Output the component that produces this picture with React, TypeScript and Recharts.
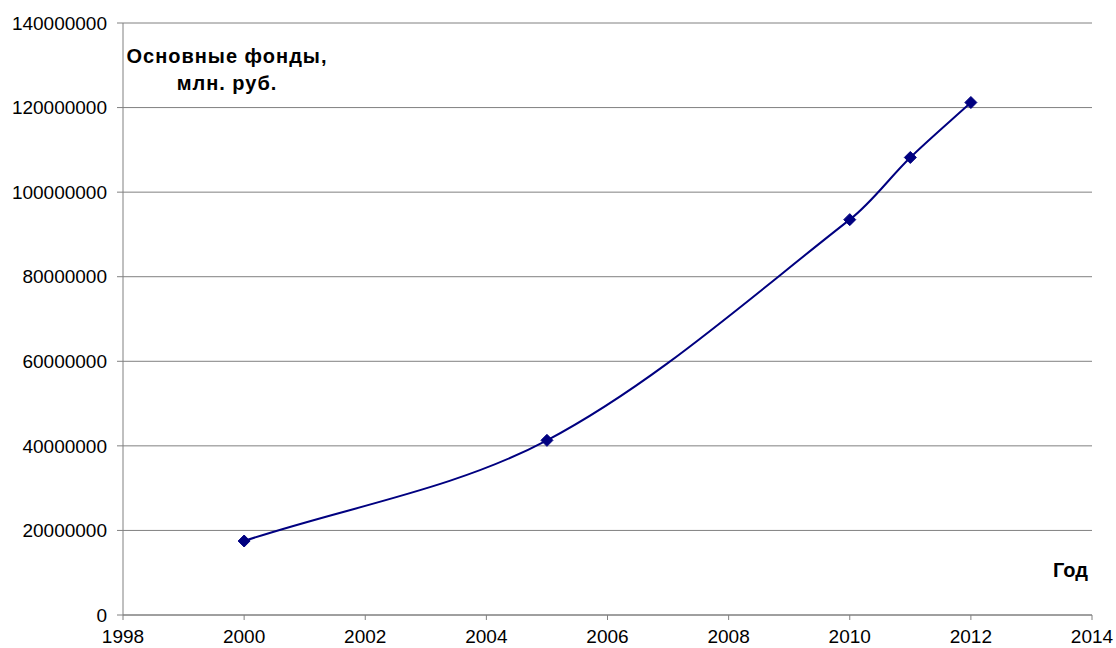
import { LineChart, Line, XAxis, YAxis, CartesianGrid } from 'recharts';

const years = [2000, 2005, 2010, 2011, 2012];
const funds = [17500000, 41300000, 93500000, 108200000, 121200000];
const xTicks = [1998, 2000, 2002, 2004, 2006, 2008, 2010, 2012, 2014];
const yTicks = [0, 20000000, 40000000, 60000000, 80000000, 100000000, 120000000, 140000000];

const data = years.map((year, i) => ({ year, value: funds[i] }));

const dist = (a: number[], b: number[]) => Math.hypot(b[0] - a[0], b[1] - a[1]);

// Excel-style smoothed line: cubic segments, tangents scaled by segment lengths
const excelSmooth = (context: any) => {
  let pts: number[][] = [];
  return {
    areaStart() {},
    areaEnd() {},
    lineStart() {
      pts = [];
    },
    point(x: number, y: number) {
      pts.push([+x, +y]);
    },
    lineEnd() {
      const n = pts.length;
      if (!n) return;
      context.moveTo(pts[0][0], pts[0][1]);
      for (let i = 0; i < n - 1; i++) {
        const p0 = pts[Math.max(i - 1, 0)];
        const p1 = pts[i];
        const p2 = pts[i + 1];
        const p3 = pts[Math.min(i + 2, n - 1)];
        const l01 = dist(p0, p1);
        const l12 = dist(p1, p2);
        const l23 = dist(p2, p3);
        const t1 = l12 / (l01 + l12) / 3;
        const t2 = l12 / (l12 + l23) / 3;
        context.bezierCurveTo(
          p1[0] + (p2[0] - p0[0]) * t1,
          p1[1] + (p2[1] - p0[1]) * t1,
          p2[0] - (p3[0] - p1[0]) * t2,
          p2[1] - (p3[1] - p1[1]) * t2,
          p2[0],
          p2[1]
        );
      }
    },
  };
};

const Diamond = (props: any) => {
  const { cx, cy } = props;
  if (cx == null || cy == null) return null;
  const r = 6;
  return (
    <polygon
      points={`${cx},${cy - r} ${cx + r},${cy} ${cx},${cy + r} ${cx - r},${cy}`}
      fill="#000080"
      stroke="#000080"
    />
  );
};

const font = 'Arial, "Liberation Sans", sans-serif';

export default function App() {
  return (
    <div style={{ position: 'absolute', left: 0, top: 0, width: 1116, height: 648, background: '#fff', fontFamily: font }}>
      <LineChart width={1116} height={648} data={data} margin={{ top: 23, right: 24, left: 0, bottom: 0 }}>
        <CartesianGrid vertical={false} stroke="#808080" strokeWidth={1} />
        <XAxis
          dataKey="year"
          type="number"
          domain={[1998, 2014]}
          ticks={xTicks}
          interval={0}
          height={33}
          stroke="#808080"
          tickSize={5}
          tickMargin={10}
          tick={{ fill: '#000', fontSize: 19, fontFamily: font }}
        />
        <YAxis
          type="number"
          domain={[0, 140000000]}
          ticks={yTicks}
          interval={0}
          width={123}
          stroke="#808080"
          tickSize={6}
          tickMargin={10}
          tick={{ fill: '#000', fontSize: 19, fontFamily: font }}
        />
        <Line
          type={excelSmooth as any}
          dataKey="value"
          stroke="#000080"
          strokeWidth={2}
          dot={<Diamond />}
          activeDot={false}
          isAnimationActive={false}
        />
      </LineChart>
      <div style={{ position: 'absolute', left: 117, top: 43, width: 220, textAlign: 'center', fontWeight: 'bold', fontSize: 20, letterSpacing: 1, lineHeight: '27px', color: '#000' }}>
        Основные фонды,<br />млн. руб.
      </div>
      <div style={{ position: 'absolute', left: 1053, top: 559, fontWeight: 'bold', fontSize: 20, color: '#000' }}>
        Год
      </div>
    </div>
  );
}
